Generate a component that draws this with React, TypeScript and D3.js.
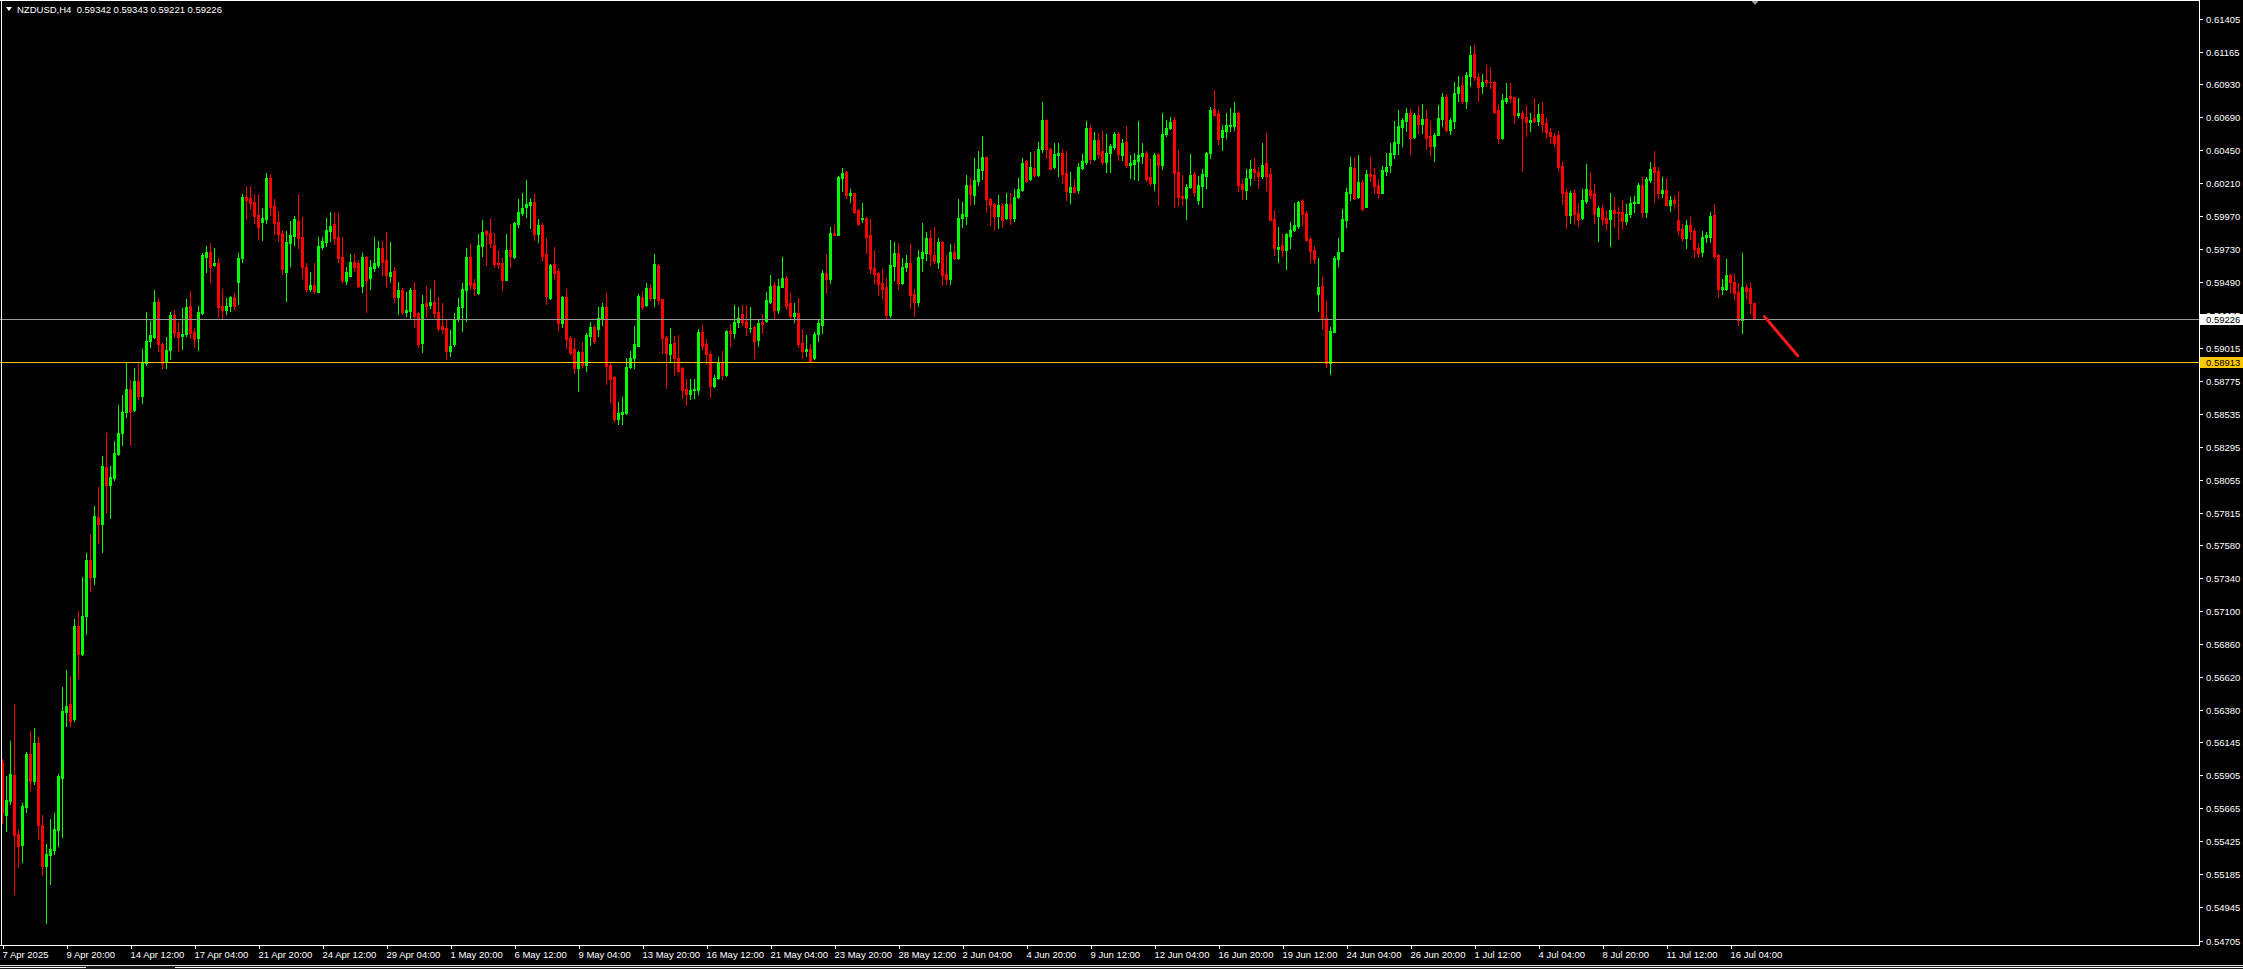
import React, { useEffect } from 'react';
import * as d3 from 'd3';

// ---- DATA (NZDUSD H4, 439 bars starting 7 Apr 2025 04:00) ----
const OPEN = [
.56006,.55618,.55720,.55909,.55479,.55399,.55676,.56061,.55865,.56141,
.55545,.55247,.55327,.55363,.55509,.55887,.56367,.56425,.56315,.56991,
.56791,.57064,.57475,.57348,.57785,.57730,.58149,.58018,.58065,.58240,
.58392,.58549,.58713,.58563,.58775,.58665,.58902,.59066,.59095,.59350,
.59040,.58913,.59000,.59255,.59128,.59102,.59113,.59320,.59128,.59084,
.59266,.59677,.59710,.59619,.59630,.59320,.59291,.59321,.59383,.59492,
.59666,.60111,.60103,.60074,.59983,.59928,.59950,.60249,.60049,.59928,
.59848,.59568,.59776,.59830,.59939,.59819,.59605,.59441,.59473,.59423,
.59746,.59783,.59866,.59914,.59819,.59674,.59503,.59539,.59641,.59630,
.59466,.59677,.59521,.59597,.59619,.59739,.59655,.59539,.59575,.59383,
.59437,.59277,.59284,.59437,.59266,.59048,.59339,.59328,.59350,.59277,
.59170,.59155,.58990,.59039,.59221,.59313,.59434,.59677,.59483,.59410,
.59754,.59864,.59847,.59759,.59628,.59633,.59507,.59723,.59677,.59912,
.59992,.60041,.60050,.60075,.59839,.59905,.59694,.59379,.59621,.59570,
.59197,.59383,.59082,.59007,.58864,.58983,.58886,.59100,.59168,.59148,
.59221,.59311,.58886,.58801,.58500,.58530,.58537,.58876,.58937,.59027,
.59383,.59325,.59446,.59378,.59616,.59366,.59092,.58966,.59051,.58942,
.58864,.58718,.58675,.58711,.58711,.59129,.59039,.58966,.58740,.58794,
.58901,.58820,.59136,.59124,.59204,.59257,.59209,.59155,.59165,.59068,
.59201,.59209,.59347,.59468,.59286,.59456,.59519,.59337,.59245,.59264,
.59046,.58990,.59007,.58937,.59112,.59180,.59560,.59512,.59852,.59835,
.60247,.60293,.60126,.60138,.60014,.59949,.59956,.59832,.59592,.59560,
.59483,.59459,.59250,.59609,.59702,.59488,.59602,.59634,.59403,.59350,
.59665,.59707,.59816,.59687,.59639,.59787,.59549,.59517,.59714,.59665,
.59956,.59973,.60197,.60126,.60228,.60308,.60403,.60099,.60058,.59973,
.60053,.59956,.60058,.59956,.60112,.60160,.60369,.60240,.60325,.60272,
.60463,.60672,.60463,.60332,.60415,.60429,.60284,.60150,.60180,.60160,
.60325,.60366,.60611,.60386,.60524,.60442,.60362,.60429,.60476,.60568,
.60415,.60512,.60342,.60354,.60374,.60410,.60429,.60257,.60211,.60422,
.60342,.60566,.60616,.60670,.60289,.60119,.60107,.60180,.60277,.60090,
.60192,.60264,.60429,.60750,.60721,.60548,.60592,.60624,.60628,.60720,
.60204,.60163,.60247,.60313,.60296,.60260,.60357,.60277,.59949,.59731,
.59760,.59724,.59828,.59869,.59901,.60083,.59993,.59804,.59724,.59403,
.59464,.59234,.58906,.59129,.59658,.59719,.59944,.60138,.60320,.60112,
.60221,.60039,.60277,.60272,.60197,.60143,.60301,.60342,.60427,.60507,
.60621,.60665,.60721,.60544,.60706,.60641,.60677,.60551,.60483,.60561,
.60677,.60839,.60597,.60665,.60864,.60927,.60810,.60992,.61150,.60985,
.60920,.60961,.60949,.60949,.60740,.60539,.60810,.60842,.60835,.60706,
.60725,.60696,.60658,.60682,.60665,.60713,.60648,.60585,.60556,.60561,
.60337,.60148,.59981,.60138,.59993,.59956,.60082,.60160,.60138,.59975,
.60029,.59956,.59949,.60015,.60003,.60003,.59937,.59986,.60066,.60066,
.60199,.60003,.60235,.60330,.60301,.60138,.60160,.60053,.60087,.59942,
.59881,.59811,.59906,.59864,.59743,.59711,.59821,.59823,.59978,.59687,
.59445,.59445,.59542,.59493,.59420,.59214,.59457,.59447,.59342
];

const HIGH = [
.56026,.55901,.56156,.56425,.55516,.55705,.56076,.56229,.56251,.56185,
.55618,.55407,.55589,.55632,.55916,.56549,.56672,.56629,.57046,.57100,
.57348,.57519,.57657,.57865,.57999,.58229,.58392,.58156,.58338,.58600,
.58673,.58913,.58782,.58866,.58902,.59004,.59277,.59211,.59437,.59375,
.59055,.59095,.59277,.59291,.59200,.59302,.59368,.59430,.59157,.59321,
.59703,.59757,.59776,.59739,.59666,.59441,.59375,.59393,.59412,.59703,
.60132,.60194,.60194,.60129,.60132,.60030,.60285,.60278,.60096,.60012,
.59874,.59867,.59939,.59976,.60132,.59965,.59630,.59568,.59630,.59823,
.59823,.59958,.60001,.59994,.59994,.59823,.59604,.59696,.59696,.59655,
.59703,.59680,.59655,.59819,.59794,.59794,.59859,.59783,.59604,.59495,
.59448,.59419,.59448,.59495,.59277,.59401,.59466,.59441,.59510,.59383,
.59337,.59221,.59141,.59269,.59374,.59488,.59742,.59771,.59512,.59839,
.59941,.59868,.59961,.59852,.59723,.59670,.59839,.59912,.59929,.60094,
.60138,.60232,.60106,.60130,.59949,.59919,.59810,.59621,.59750,.59597,
.59391,.59439,.59100,.59082,.58990,.59056,.59124,.59204,.59177,.59313,
.59342,.59410,.58905,.58808,.58619,.58655,.58937,.58990,.59172,.59403,
.59427,.59488,.59476,.59694,.59621,.59366,.59100,.59155,.59100,.59107,
.58876,.58784,.58784,.58784,.59148,.59177,.59080,.58990,.58813,.58949,
.58990,.59141,.59184,.59323,.59313,.59323,.59323,.59313,.59172,.59214,
.59257,.59422,.59541,.59492,.59517,.59677,.59536,.59415,.59342,.59378,
.59148,.59104,.59044,.59129,.59226,.59580,.59694,.59895,.59905,.60264,
.60320,.60300,.60172,.60140,.60026,.60065,.59968,.59953,.59723,.59568,
.59585,.59520,.59796,.59784,.59779,.59665,.59687,.59767,.59440,.59723,
.59925,.59859,.59869,.59896,.59816,.59792,.59687,.59767,.59774,.60095,
.60078,.60272,.60252,.60393,.60442,.60551,.60405,.60107,.60066,.60124,
.60058,.60143,.60143,.60167,.60248,.60398,.60381,.60439,.60446,.60514,
.60805,.60677,.60465,.60507,.60502,.60459,.60442,.60296,.60240,.60361,
.60422,.60665,.60636,.60580,.60575,.60592,.60568,.60495,.60585,.60580,
.60531,.60624,.60415,.60429,.60660,.60500,.60442,.60386,.60429,.60434,
.60720,.60670,.60689,.60696,.60451,.60269,.60204,.60422,.60296,.60264,
.60313,.60439,.60762,.60888,.60742,.60633,.60725,.60757,.60803,.60737,
.60240,.60313,.60379,.60398,.60332,.60502,.60575,.60325,.60015,.59893,
.59840,.59847,.59932,.60066,.60083,.60095,.60010,.59821,.59755,.59665,
.59532,.59355,.59166,.59682,.59811,.60022,.60175,.60403,.60403,.60415,
.60235,.60306,.60403,.60320,.60240,.60333,.60430,.60502,.60660,.60745,
.60682,.60757,.60750,.60721,.60769,.60786,.60743,.60660,.60575,.60779,
.60866,.60859,.60682,.60949,.60992,.60985,.61021,.61211,.61218,.61012,
.61004,.61070,.61053,.60956,.60786,.60859,.60939,.60939,.60840,.60830,
.60733,.60779,.60721,.60830,.60786,.60803,.60684,.60616,.60575,.60592,
.60366,.60172,.60151,.60172,.60066,.60168,.60349,.60289,.60204,.60046,
.60051,.60015,.60143,.60112,.60041,.60087,.60058,.60114,.60119,.60216,
.60253,.60253,.60366,.60446,.60330,.60253,.60248,.60119,.60126,.60151,
.59913,.59942,.59966,.59889,.59779,.59864,.59857,.60003,.60058,.59694,
.59513,.59663,.59549,.59549,.59488,.59702,.59476,.59483,.59343
];

const LOW = [
.55562,.55501,.55698,.55043,.55239,.55276,.55640,.55800,.55843,.55443,
.55181,.54832,.55116,.55334,.55392,.55458,.56265,.56265,.56300,.56616,
.56780,.56936,.57246,.57300,.57592,.57530,.57810,.57774,.58054,.58236,
.58308,.58512,.58308,.58552,.58640,.58611,.58890,.59022,.59084,.58993,
.58866,.58866,.58931,.59095,.58993,.59004,.59102,.59084,.59018,.59000,
.59259,.59564,.59492,.59612,.59248,.59222,.59259,.59284,.59295,.59332,
.59637,.59950,.60023,.59921,.59805,.59801,.59921,.59983,.59841,.59794,
.59550,.59357,.59612,.59765,.59739,.59521,.59419,.59430,.59412,.59420,
.59732,.59757,.59794,.59768,.59641,.59495,.59477,.59535,.59575,.59459,
.59423,.59277,.59441,.59575,.59604,.59546,.59459,.59495,.59350,.59259,
.59259,.59248,.59230,.59164,.59018,.58982,.59237,.59302,.59237,.59146,
.59121,.58934,.58954,.59027,.59209,.59136,.59209,.59439,.59398,.59403,
.59682,.59616,.59750,.59604,.59592,.59434,.59505,.59604,.59670,.59895,
.59980,.59966,.59883,.59798,.59784,.59650,.59330,.59366,.59517,.59141,
.59165,.59010,.58966,.58828,.58699,.58876,.58845,.59034,.59051,.59099,
.59180,.58748,.58621,.58481,.58457,.58457,.58535,.58864,.58864,.59025,
.59298,.59318,.59361,.59318,.59330,.58973,.58719,.58913,.58816,.58840,
.58646,.58597,.58639,.58646,.58675,.59007,.58893,.58655,.58731,.58784,
.58791,.58808,.59027,.59087,.59168,.59177,.59107,.59131,.58937,.59027,
.59119,.59204,.59342,.59228,.59264,.59456,.59298,.59221,.59201,.59019,
.58942,.58954,.58913,.58935,.59063,.59119,.59410,.59488,.59832,.59832,
.60155,.60101,.60075,.59997,.59910,.59929,.59701,.59556,.59488,.59398,
.59374,.59229,.59238,.59508,.59440,.59476,.59573,.59301,.59246,.59318,
.59573,.59653,.59617,.59629,.59597,.59471,.59476,.59476,.59658,.59658,
.59896,.59913,.60053,.60058,.60199,.60240,.60002,.59908,.59871,.59884,
.59896,.59953,.59918,.59937,.60107,.60158,.60221,.60238,.60265,.60260,
.60439,.60393,.60313,.60325,.60265,.60216,.60090,.60066,.60148,.60138,
.60313,.60354,.60357,.60379,.60398,.60349,.60289,.60294,.60463,.60379,
.60381,.60332,.60248,.60240,.60235,.60357,.60228,.60199,.60163,.60053,
.60318,.60556,.60604,.60039,.60046,.60051,.59949,.60178,.60119,.60058,
.60039,.60175,.60393,.60701,.60495,.60454,.60539,.60592,.60599,.60155,
.60099,.60095,.60197,.60233,.60175,.60248,.60160,.59942,.59690,.59639,
.59682,.59585,.59738,.59867,.59888,.59908,.59792,.59639,.59634,.59282,
.59153,.58877,.58826,.59127,.59610,.59717,.59893,.60090,.60095,.60102,
.60015,.60037,.60228,.60143,.60107,.60138,.60272,.60294,.60398,.60427,
.60483,.60592,.60422,.60539,.60575,.60575,.60463,.60415,.60374,.60559,
.60624,.60592,.60568,.60611,.60806,.60793,.60757,.60920,.60963,.60810,
.60866,.60915,.60903,.60718,.60502,.60531,.60793,.60798,.60648,.60696,
.60301,.60556,.60592,.60658,.60636,.60580,.60539,.60507,.60478,.60308,
.60058,.59884,.59925,.59918,.59901,.59954,.60070,.60107,.59925,.59792,
.59913,.59872,.59755,.59893,.59811,.59876,.59913,.59966,.60003,.60064,
.59966,.59966,.60223,.60075,.60107,.60112,.60050,.60010,.60034,.59840,
.59792,.59743,.59804,.59677,.59675,.59682,.59787,.59784,.59670,.59384,
.59403,.59432,.59423,.59367,.59178,.59120,.59379,.59270,.59221
];

const CLOSE = [
.55630,.55727,.55916,.55472,.55392,.55683,.56061,.55865,.56141,.55545,
.55247,.55334,.55370,.55516,.55901,.56374,.56411,.56301,.56991,.56791,
.57064,.57475,.57348,.57792,.57730,.58156,.58018,.58076,.58247,.58392,
.58549,.58713,.58556,.58775,.58665,.58913,.59066,.59109,.59350,.59040,
.58902,.59000,.59255,.59120,.59095,.59113,.59310,.59120,.59077,.59273,
.59692,.59710,.59605,.59630,.59313,.59291,.59321,.59383,.59321,.59666,
.60111,.60092,.60067,.59976,.59892,.59958,.60249,.60038,.59921,.59841,
.59586,.59783,.59837,.59950,.59812,.59601,.59441,.59473,.59430,.59757,
.59794,.59874,.59903,.59812,.59666,.59510,.59564,.59641,.59601,.59466,
.59677,.59510,.59601,.59630,.59739,.59641,.59546,.59568,.59383,.59437,
.59277,.59291,.59437,.59248,.59040,.59332,.59321,.59350,.59266,.59157,
.59150,.58990,.59031,.59226,.59313,.59439,.59677,.59471,.59451,.59759,
.59859,.59839,.59774,.59621,.59621,.59507,.59723,.59682,.59919,.60004,
.60033,.60058,.60075,.59839,.59905,.59682,.59391,.59614,.59560,.59197,
.59383,.59075,.58978,.58864,.58983,.58886,.59107,.59165,.59063,.59233,
.59311,.58881,.58791,.58500,.58537,.58549,.58876,.58942,.59039,.59391,
.59313,.59446,.59378,.59621,.59361,.59082,.58973,.59039,.58937,.58845,
.58711,.58675,.58711,.58718,.59129,.59031,.58966,.58740,.58794,.58901,
.58820,.59136,.59124,.59204,.59233,.59201,.59167,.59160,.59063,.59197,
.59184,.59359,.59463,.59289,.59463,.59519,.59318,.59245,.59264,.59039,
.58990,.59007,.58917,.59112,.59192,.59560,.59512,.59852,.59835,.60259,
.60288,.60123,.60138,.60004,.59912,.59956,.59820,.59590,.59548,.59480,
.59440,.59250,.59614,.59702,.59488,.59604,.59629,.59398,.59350,.59677,
.59714,.59816,.59694,.59646,.59787,.59544,.59517,.59714,.59665,.59961,
.59985,.60197,.60131,.60233,.60313,.60403,.60099,.60051,.59973,.60051,
.59944,.60058,.59961,.60114,.60167,.60361,.60228,.60332,.60272,.60463,
.60670,.60459,.60318,.60422,.60429,.60277,.60155,.60180,.60150,.60332,
.60374,.60611,.60386,.60524,.60427,.60366,.60434,.60483,.60568,.60422,
.60502,.60342,.60357,.60379,.60415,.60429,.60240,.60211,.60415,.60342,
.60568,.60616,.60653,.60284,.60112,.60102,.60180,.60269,.60148,.60197,
.60277,.60429,.60742,.60708,.60531,.60597,.60633,.60636,.60720,.60197,
.60172,.60248,.60313,.60289,.60264,.60342,.60260,.59944,.59738,.59750,
.59724,.59840,.59869,.59908,.60078,.59985,.59796,.59719,.59658,.59459,
.59229,.58906,.59136,.59665,.59711,.59949,.60148,.60330,.60107,.60221,
.60022,.60277,.60265,.60192,.60143,.60306,.60330,.60430,.60512,.60628,
.60672,.60721,.60539,.60706,.60641,.60677,.60539,.60483,.60561,.60684,
.60839,.60597,.60672,.60866,.60912,.60806,.60999,.61145,.60980,.60912,
.60949,.60944,.60944,.60730,.60539,.60815,.60830,.60830,.60706,.60721,
.60682,.60658,.60672,.60665,.60713,.60641,.60580,.60551,.60507,.60332,
.60143,.59981,.60138,.59990,.59949,.60087,.60168,.60126,.59985,.60029,
.59949,.59920,.60015,.59998,.59993,.59937,.59986,.60066,.60075,.60199,
.60003,.60240,.60313,.60294,.60138,.60160,.60053,.60087,.60066,.59869,
.59811,.59906,.59864,.59731,.59702,.59823,.59835,.59974,.59682,.59445,
.59457,.59542,.59493,.59416,.59214,.59457,.59428,.59338,.59226
];

// time-axis labels, one every 16 bars starting at bar 0
const X_LABELS = [
  '7 Apr 2025', '9 Apr 20:00', '14 Apr 12:00', '17 Apr 04:00', '21 Apr 20:00',
  '24 Apr 12:00', '29 Apr 04:00', '1 May 20:00', '6 May 12:00', '9 May 04:00',
  '13 May 20:00', '16 May 12:00', '21 May 04:00', '23 May 20:00', '28 May 12:00',
  '2 Jun 04:00', '4 Jun 20:00', '9 Jun 12:00', '12 Jun 04:00', '16 Jun 20:00',
  '19 Jun 12:00', '24 Jun 04:00', '26 Jun 20:00', '1 Jul 12:00', '4 Jul 04:00',
  '8 Jul 20:00', '11 Jul 12:00', '16 Jul 04:00'
];
const X_LABEL_STEP = 16;

const Y_LABELS = [
  '0.61405', '0.61165', '0.60930', '0.60690', '0.60450', '0.60210', '0.59970',
  '0.59730', '0.59490', '0.59255', '0.59015', '0.58775', '0.58535', '0.58295',
  '0.58055', '0.57815', '0.57580', '0.57340', '0.57100', '0.56860', '0.56620',
  '0.56380', '0.56145', '0.55905', '0.55665', '0.55425', '0.55185', '0.54945',
  '0.54705'
];

const SYMBOL = 'NZDUSD,H4';
const BID = 0.59226;
const LEVEL = 0.58913;
// hand-drawn red trend line: [bar index, price]
const ARROW_FROM: [number, number] = [440.5, 0.59241];
const ARROW_TO: [number, number] = [448.8, 0.58957];

const FONT = '"Liberation Sans", Arial, sans-serif';
const FS = 9.5;

export default function App() {
  useEffect(() => {
    document.body.style.margin = '0';
    document.body.style.background = '#000';
  }, []);

  const W = 2243, H = 969;
  const plotRight = 2199;
  const plotBottom = 945;
  const n = CLOSE.length;
  const bars = d3.range(n).map(i => ({ i, o: OPEN[i], h: HIGH[i], l: LOW[i], c: CLOSE[i] }));

  // bar index -> candle centre x (4 px per bar)
  const x = d3.scaleLinear().domain([0, 1]).range([2.5, 6.5]);
  const y = d3.scaleLinear().domain([0.54705, 0.61405]).range([940.5, 19]);

  const last = bars[n - 1];
  const title = `${SYMBOL}  ${last.o.toFixed(5)} ${last.h.toFixed(5)} ${last.l.toFixed(5)} ${last.c.toFixed(5)}`;

  const bidY = Math.round(y(BID)) + 0.5;
  const lvlY = Math.round(y(LEVEL)) + 0.5;

  return (
    <div style={{ position: 'absolute', left: 0, top: 0, width: W, height: H, background: '#000' }}>
      <svg width={W} height={H} style={{ display: 'block' }} fontFamily={FONT}>
        <rect x={0} y={0} width={W} height={H} fill="#000" />

        {/* candles */}
        <g shapeRendering="crispEdges">
          {bars.map(b => {
            const up = b.c >= b.o;
            const col = up ? '#00ff00' : '#ff0000';
            const cx = x(b.i);
            const yh = Math.round(y(b.h));
            const yl = Math.round(y(b.l));
            const yt = Math.round(y(Math.max(b.o, b.c)));
            const yb = Math.round(y(Math.min(b.o, b.c)));
            return (
              <g key={b.i}>
                <rect x={cx - 0.5} y={yh} width={1} height={Math.max(1, yl - yh + 1)} fill={col} />
                <rect x={cx - 1.5} y={yt} width={3} height={Math.max(1, yb - yt + 1)} fill={col} />
              </g>
            );
          })}
        </g>

        {/* horizontal lines */}
        <line x1={0} x2={plotRight} y1={bidY} y2={bidY} stroke="#9a9a9a" strokeWidth={1} shapeRendering="crispEdges" />
        <line x1={0} x2={plotRight} y1={lvlY} y2={lvlY} stroke="#ffc800" strokeWidth={1} shapeRendering="crispEdges" />

        {/* red trend line */}
        <line
          x1={x(ARROW_FROM[0])} y1={y(ARROW_FROM[1])}
          x2={x(ARROW_TO[0])} y2={y(ARROW_TO[1])}
          stroke="#ff1a1a" strokeWidth={3} strokeLinecap="round"
        />

        {/* frame */}
        <g stroke="#ffffff" strokeWidth={1} shapeRendering="crispEdges" fill="none">
          <line x1={1.5} x2={1.5} y1={0} y2={plotBottom} />
          <line x1={0} x2={plotRight + 0.5} y1={plotBottom + 0.5} y2={plotBottom + 0.5} />
          <line x1={plotRight + 0.5} x2={plotRight + 0.5} y1={0} y2={plotBottom + 1} />
          <line x1={0} x2={plotRight} y1={0.5} y2={0.5} />
        </g>

        {/* chart shift marker */}
        <path d={`M${x(n - 1) - 3},1 L${x(n - 1) + 4},1 L${x(n - 1) + 0.5},5 Z`} fill="#9a9a9a" />

        {/* title */}
        <path d="M6,7 L12,7 L9,11 Z" fill="#ffffff" />
        <text x={17} y={9.5} dominantBaseline="central" fill="#ffffff" fontSize={FS} xmlSpace="preserve">{title}</text>

        {/* price axis */}
        <g>
          {Y_LABELS.map(s => {
            const yy = Math.round(y(+s)) + 0.5;
            return (
              <g key={s}>
                <line x1={plotRight} x2={plotRight + 4} y1={yy} y2={yy} stroke="#fff" shapeRendering="crispEdges" />
                <text x={2206} y={yy} dominantBaseline="central" fill="#ffffff" fontSize={FS}>{s}</text>
              </g>
            );
          })}
          <rect x={plotRight + 1} y={bidY - 5.5} width={W - plotRight - 1} height={11} fill="#ffffff" />
          <text x={2206} y={bidY} dominantBaseline="central" fill="#000" fontSize={FS}>{BID.toFixed(5)}</text>
          <rect x={plotRight + 1} y={lvlY - 5.5} width={W - plotRight - 1} height={11} fill="#ffc800" />
          <text x={2206} y={lvlY} dominantBaseline="central" fill="#000" fontSize={FS}>{LEVEL.toFixed(5)}</text>
        </g>

        {/* time axis */}
        <g>
          {X_LABELS.map((s, k) => {
            const xx = Math.round(x(k * X_LABEL_STEP)) + 0.5;
            return (
              <g key={s}>
                <line x1={xx} x2={xx} y1={plotBottom} y2={plotBottom + 4} stroke="#fff" shapeRendering="crispEdges" />
                <text x={xx - 1} y={954.5} dominantBaseline="central" fill="#ffffff" fontSize={FS}>{s}</text>
              </g>
            );
          })}
        </g>

        {/* bottom tab strip */}
        <g shapeRendering="crispEdges">
          <line x1={0} x2={W} y1={965.5} y2={965.5} stroke="#d8d8d8" />
          <rect x={0} y={966} width={W} height={3} fill="#1a1a1a" />
          <line x1={0} x2={86} y1={967.5} y2={967.5} stroke="#ffffff" />
          <line x1={175} x2={W} y1={967.5} y2={967.5} stroke="#ffffff" />
        </g>
      </svg>
    </div>
  );
}
